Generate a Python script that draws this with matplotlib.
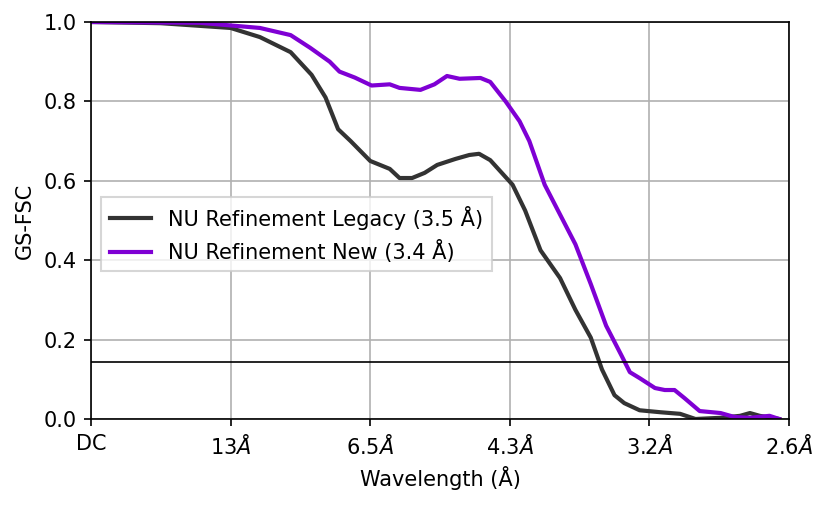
import matplotlib

matplotlib.use("Agg")
import matplotlib.pyplot as plt
import numpy as np

# spatial frequency position, 0 = DC, 5 = 2.6 A
legacy_x = [0.0, 0.5, 1.0, 1.21, 1.43, 1.58, 1.68, 1.77, 1.86, 2.0, 2.14, 2.21,
            2.30, 2.39, 2.48, 2.61, 2.71, 2.78, 2.86, 3.02, 3.11, 3.22, 3.28, 3.36,
            3.47, 3.58, 3.66, 3.75, 3.82, 3.93, 4.08, 4.22, 4.33, 4.51, 4.65, 4.72,
            4.79, 4.93]
legacy_y = [1.0, 0.997, 0.985, 0.962, 0.924, 0.867, 0.81, 0.73, 0.70, 0.65, 0.63,
            0.607, 0.607, 0.62, 0.64, 0.655, 0.665, 0.668, 0.652, 0.59, 0.525,
            0.425, 0.395, 0.355, 0.275, 0.205, 0.125, 0.06, 0.04, 0.022, 0.017,
            0.013, 0.0, 0.003, 0.008, 0.015, 0.008, 0.0]
new_x = [0.0, 0.78, 1.21, 1.43, 1.57, 1.71, 1.78, 1.89, 2.01, 2.14, 2.21, 2.36,
         2.46, 2.55, 2.64, 2.79, 2.86, 2.97, 3.07, 3.14, 3.25, 3.36, 3.47, 3.58,
         3.69, 3.80, 3.86, 3.93, 4.04, 4.11, 4.18, 4.25, 4.36, 4.51, 4.61, 4.72,
         4.86, 4.93]
new_y = [1.0, 0.998, 0.985, 0.967, 0.935, 0.90, 0.875, 0.86, 0.84, 0.843, 0.834,
         0.829, 0.843, 0.864, 0.857, 0.859, 0.849, 0.80, 0.75, 0.70, 0.59, 0.515,
         0.44, 0.34, 0.235, 0.16, 0.118, 0.103, 0.078, 0.073, 0.073, 0.053, 0.02,
         0.015, 0.005, 0.003, 0.008, 0.0]
tick_labels = ["DC", r"13$\AA$", r"6.5$\AA$", r"4.3$\AA$", r"3.2$\AA$", r"2.6$\AA$"]
threshold = 0.143

fig = plt.figure(figsize=(827 / 150, 509 / 150), dpi=150)
ax = fig.add_axes([91 / 827, 1 - 419 / 509, 698 / 827, 397 / 509])

ax.plot(legacy_x, legacy_y, color="#333333", linewidth=2, label="NU Refinement Legacy (3.5 Å)")
ax.plot(new_x, new_y, color="#7f00d4", linewidth=2, label="NU Refinement New (3.4 Å)")
ax.axhline(threshold, color="black", linewidth=0.8)

ax.set_xlim(0, 5)
ax.set_ylim(0, 1)
ax.set_xticks(np.arange(6))
ax.set_xticklabels(tick_labels)
ax.set_yticks([0, 0.2, 0.4, 0.6, 0.8, 1.0])
ax.grid(True, color="#b0b0b0")
ax.set_xlabel("Wavelength (Å)")
ax.set_ylabel("GS-FSC")
ax.legend(loc="upper left", bbox_to_anchor=(0.0, 0.585), fancybox=False)

fig.savefig("out.png", dpi=150)
